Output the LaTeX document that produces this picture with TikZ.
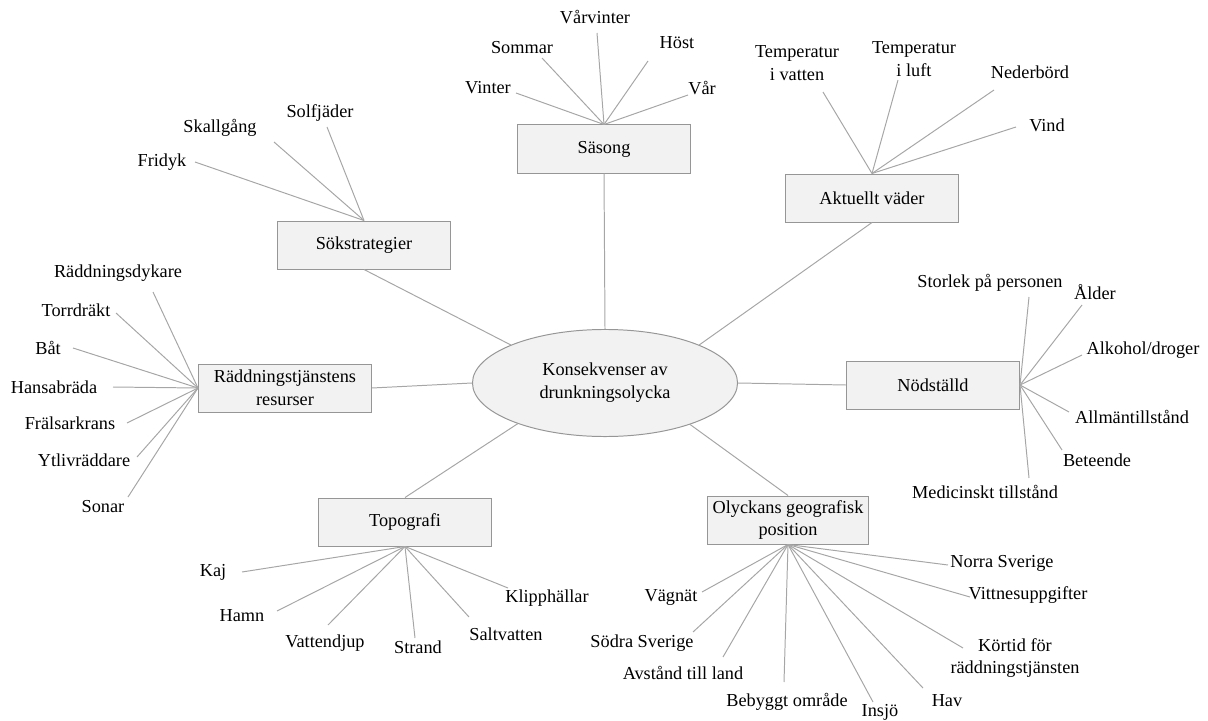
\documentclass[tikz,border=0pt]{standalone}
\usepackage{fontspec}
\setmainfont{Liberation Serif}
\usetikzlibrary{shapes.geometric}
\definecolor{boxfill}{HTML}{F2F2F2}
\definecolor{boxline}{HTML}{969696}
\definecolor{spokeline}{HTML}{A6A6A6}
\begin{document}
\begin{tikzpicture}[
    x=0.025cm, y=-0.025cm,
    font=\fontsize{13}{16.3}\selectfont,
    topic/.style={rectangle, draw=boxline, fill=boxfill, line width=0.7pt, align=center, minimum width=4.325cm, minimum height=1.2cm, inner sep=2pt},
    core/.style={ellipse, draw=boxline, fill=boxfill, line width=0.7pt, align=center, minimum width=6.625cm, minimum height=2.675cm, inner sep=0pt},
    leaf/.style={align=center, inner sep=1pt},
    spoke/.style={draw=spokeline, line width=0.7pt}
]
    \useasboundingbox (0,0) rectangle (1208,721);

    % centre and topics
    \node [core] (olycka) at (605,383) {Konsekvenser av\\drunkningsolycka};
    \node [topic] (sasong) at (604,149) {Säsong};
    \node [topic] (vader) at (872,198) {Aktuellt väder};
    \node [topic] (sok) at (364,245) {Sökstrategier};
    \node [topic] (resurser) at (285,388) {Räddningstjänstens\\resurser};
    \node [topic] (nodstalld) at (933,385) {Nödställd};
    \node [topic] (topografi) at (405,522) {Topografi};
    \node [topic, minimum width=4.025cm] (position) at (788,520) {Olyckans geografisk\\position};

    \draw [spoke] (sasong.south) -- (olycka.north);
    \draw [spoke] (vader.south) -- (olycka.22);
    \draw [spoke] (sok.south) -- (olycka.158);
    \draw [spoke] (resurser.east) -- (olycka.west);
    \draw [spoke] (nodstalld.west) -- (olycka.east);
    \draw [spoke] (topografi.north) -- (olycka.205);
    \draw [spoke] (position.north) -- (olycka.334);

    % leaves: text x/y, line end x/y, text
    \foreach \tx/\ty/\ex/\ey/\txt [count=\i] in {488/88/516/93/Vinter, 522/48/542/58/Sommar, 595/17/597/33/Vårvinter, 677/43/648/61/Höst, 702/88/688/95/Vår}{
        \node [leaf] (sasong-\i) at (\tx,\ty) {\txt};
        \coordinate (sasong-\i-end) at (\ex,\ey);
        \draw [spoke] (sasong-\i-end) -- (sasong.north);
    }
    \foreach \tx/\ty/\ex/\ey/\txt [count=\i] in {797/63/823/92/{Temperatur\\i vatten}, 914/59/898/80/{Temperatur\\i luft}, 1030/72/994/90/Nederbörd, 1047/125/1016/127/Vind}{
        \node [leaf] (vader-\i) at (\tx,\ty) {\txt};
        \coordinate (vader-\i-end) at (\ex,\ey);
        \draw [spoke] (vader-\i-end) -- (vader.north);
    }
    \foreach \tx/\ty/\ex/\ey/\txt [count=\i] in {162/162/195/162/Fridyk, 220/128/274/142/Skallgång, 320/113/327/127/Solfjäder}{
        \node [leaf] (sok-\i) at (\tx,\ty) {\txt};
        \coordinate (sok-\i-end) at (\ex,\ey);
        \draw [spoke] (sok-\i-end) -- (sok.north);
    }
    \foreach \tx/\ty/\ex/\ey/\txt [count=\i] in {118/273/153/292/Räddningsdykare, 76/310/116/313/Torrdräkt, 48/348/73/348/Båt, 54/387/113/387/Hansabräda, 70/423/127/423/Frälsarkrans, 84/460/137/457/Ytlivräddare, 103/507/128/497/Sonar}{
        \node [leaf] (resurser-\i) at (\tx,\ty) {\txt};
        \coordinate (resurser-\i-end) at (\ex,\ey);
        \draw [spoke] (resurser-\i-end) -- (resurser.west);
    }
    \foreach \tx/\ty/\ex/\ey/\txt [count=\i] in {990/283/1029/297/Storlek på personen, 1095/292/1082/305/Ålder, 1143/350/1082/355/{Alkohol/droger}, 1132/417/1069/412/Allmäntillstånd, 1097/460/1062/450/Beteende, 985/492/1029/478/Medicinskt tillstånd}{
        \node [leaf] (nodstalld-\i) at (\tx,\ty) {\txt};
        \coordinate (nodstalld-\i-end) at (\ex,\ey);
        \draw [spoke] (nodstalld-\i-end) -- (nodstalld.east);
    }
    \foreach \tx/\ty/\ex/\ey/\txt [count=\i] in {213/572/242/572/Kaj, 242/616/277/611/Hamn, 325/643/328/625/Vattendjup, 418/647/415/638/Strand, 506/634/469/617/Saltvatten, 547/598/508/588/Klipphällar}{
        \node [leaf] (topografi-\i) at (\tx,\ty) {\txt};
        \coordinate (topografi-\i-end) at (\ex,\ey);
        \draw [spoke] (topografi-\i-end) -- (topografi.south);
    }
    \foreach \tx/\ty/\ex/\ey/\txt [count=\i] in {1002/563/948/565/Norra Sverige, 1028/595/970/597/Vittnesuppgifter, 1015/658/963/648/{Körtid för\\räddningstjänsten}, 947/701/923/688/Hav, 880/712/873/702/Insjö, 787/702/784/682/Bebyggt område, 683/673/723/657/Avstånd till land, 642/643/693/632/Södra Sverige, 671/597/702/592/Vägnät}{
        \node [leaf] (position-\i) at (\tx,\ty) {\txt};
        \coordinate (position-\i-end) at (\ex,\ey);
        \draw [spoke] (position-\i-end) -- (position.south);
    }
\end{tikzpicture}
\end{document}
